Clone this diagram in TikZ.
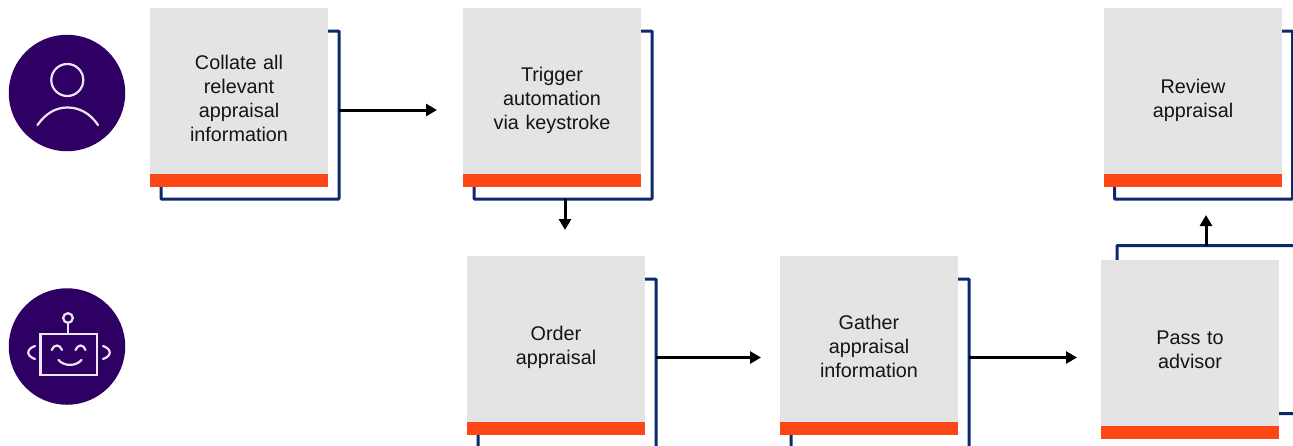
\documentclass[tikz,border=0pt]{standalone}
\usepackage{fontspec}
\setmainfont{Liberation Sans}
\usetikzlibrary{arrows.meta}
\definecolor{cardgrey}{HTML}{E4E4E4}
\definecolor{barorange}{HTML}{FD4616}
\definecolor{framenavy}{HTML}{0A2A6B}
\definecolor{discpurple}{HTML}{2F0064}
\definecolor{iconline}{HTML}{EFE6F5}
\newcommand{\dn}[1]{\rule{0pt}{\dimexpr 14pt+2\dimexpr #1pt\relax\relax}}
\tikzset{
  x=1pt,y=-1pt,
  card/.style={fill=cardgrey,minimum width=178pt,minimum height=179pt,inner sep=0pt,outer sep=0pt,
    text width=130pt,align=center,text=black!92,font=\fontsize{19.8}{24}\selectfont},
  bar/.style={fill=barorange,minimum width=178pt,minimum height=13pt,inner sep=0pt,outer sep=0pt},
  backframe/.style={draw=framenavy,line width=3pt,fill=white,minimum width=178pt,minimum height=168pt,inner sep=0pt,outer sep=0pt,rounded corners=0.8pt},
  flow/.style={draw=black,line width=3pt,-{Triangle[length=11pt,width=12pt]}},
  disc/.style={circle,fill=discpurple,minimum size=116.5pt,inner sep=0pt},
  icon/.style={draw=iconline,line width=2.2pt,line cap=round},
}
\begin{document}
\begin{tikzpicture}
\useasboundingbox (0,0) rectangle (1293,445);
\clip (0,0) rectangle (1293,445);
% back frames
\node[backframe,anchor=north west] (f1) at (161,31) {};
\node[backframe,anchor=north west] (f2) at (474,31) {};
\node[backframe,anchor=north west] (f3) at (1114.5,31) {};
\node[backframe,anchor=north west,minimum height=190pt] (f4) at (478,279) {};
\node[backframe,anchor=north west,minimum height=190pt] (f5) at (791,279) {};
\node[backframe,anchor=north west] (f6) at (1117,245.5) {};
% cards
\node[card,anchor=north west] (c1) at (150,8) {\dn{1}Collate all\\relevant\\appraisal\\information};
\node[card,anchor=north west] (c2) at (463,8) {\dn{3}Trigger\\automation\\via keystroke};
\node[card,anchor=north west] (c3) at (1104,8) {\dn{3}Review\\appraisal};
\node[card,anchor=north west] (c4) at (467,256) {\dn{2.5}Order\\appraisal};
\node[card,anchor=north west] (c5) at (780,256) {\dn{1}Gather\\appraisal\\information};
\node[card,anchor=north west] (c6) at (1101,260) {\dn{0}Pass to\\advisor};
\foreach \c in {1,...,6} \node[bar,anchor=south] (b\c) at (c\c.south) {};
% connectors
\coordinate (t1) at (437,110);
\coordinate (t2) at (565,230);
\coordinate (t4) at (761,357.5);
\coordinate (t5) at (1077,357.5);
\coordinate (t6) at (1206,215);
\draw[flow] (f1.east |- t1) -- (t1);
\draw[flow] (f2.south -| t2) -- (t2);
\draw[flow] (f4.east |- t4) -- (t4);
\draw[flow] (f5.east |- t5) -- (t5);
\draw[flow] (f6.north -| t6) -- (t6);
% person disc
\node[disc] (person) at (67,93) {};
\draw[icon] (67.3,80) circle (16);
\draw[icon] (37.5,125) .. controls (46,113) and (56,107.5) .. (67.5,107.5) .. controls (79,107.5) and (90,113) .. (98,125);
% robot disc
\node[disc] (robot) at (67,346.5) {};
\draw[icon,line cap=butt] (40.5,334) rectangle (97,375);
\draw[icon] (68,318) circle (4.8);
\draw[icon,line cap=butt] (68,323) -- (68,334);
\draw[icon] (51.7,350) .. controls (54,344) and (60,344) .. (62,350);
\draw[icon] (75.5,350) .. controls (78,344) and (83.5,344) .. (85.5,350);
\draw[icon] (58.5,360) .. controls (64,366.5) and (76,366.5) .. (81.5,360);
\draw[icon] (35,346) .. controls (26,349) and (26,356) .. (35,359);
\draw[icon] (103,346) .. controls (112,349) and (112,356) .. (103,359);
\end{tikzpicture}
\end{document}
